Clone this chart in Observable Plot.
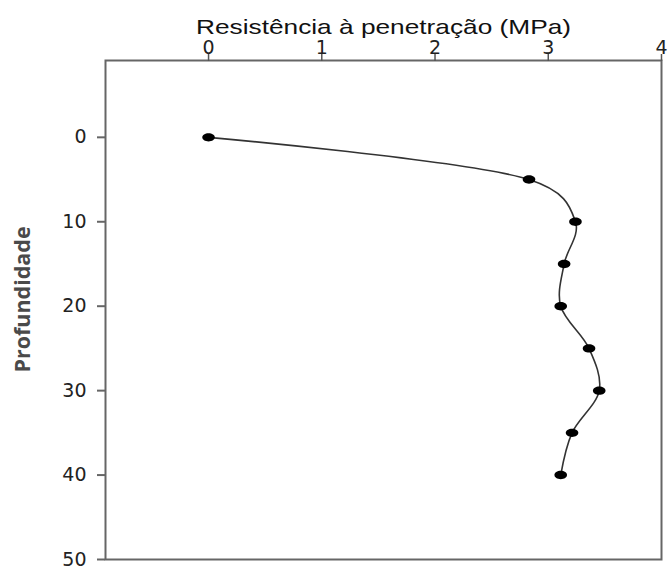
<!DOCTYPE html>
<html>
<head>
<meta charset="utf-8">
<script src="https://cdn.jsdelivr.net/npm/d3@7"></script>
<script src="https://cdn.jsdelivr.net/npm/@observablehq/plot@0.6"></script>
<style>
  html, body { margin: 0; padding: 0; background: #fff; }
  svg { display: block; }
</style>
</head>
<body>
<div id="chart"></div>
<script>
const depth = [0, 5, 10, 15, 20, 25, 30, 35, 40];
const resistance = [0, 2.83, 3.24, 3.14, 3.11, 3.36, 3.45, 3.21, 3.11];
const xTicks = [0, 1, 2, 3, 4];
const yTicks = [0, 10, 20, 30, 40, 50];
const xTitle = "Resistência à penetração (MPa)";
const yTitle = "Profundidade";

const data = depth.map((d, i) => ({depth: d, mpa: resistance[i]}));

const ellipseSymbol = {
  draw(ctx, size) {
    const ry = Math.sqrt(size / Math.PI);
    const rx = ry * 1.5;
    const k = 0.5523;
    ctx.moveTo(rx, 0);
    ctx.bezierCurveTo(rx, k * ry, k * rx, ry, 0, ry);
    ctx.bezierCurveTo(-k * rx, ry, -rx, k * ry, -rx, 0);
    ctx.bezierCurveTo(-rx, -k * ry, -k * rx, -ry, 0, -ry);
    ctx.bezierCurveTo(k * rx, -ry, rx, -k * ry, rx, 0);
    ctx.closePath();
  }
};

const tickFont = "'DejaVu Sans', sans-serif";

const chart = Plot.plot({
  width: 669,
  height: 571,
  marginLeft: 105,
  marginRight: 8,
  marginTop: 60,
  marginBottom: 12,
  style: {fontFamily: "'Liberation Sans', Arial, sans-serif", background: "#fff"},
  x: {domain: [-0.91, 4], label: null},
  y: {domain: [-9.1, 50], reverse: true, label: null},
  marks: [
    Plot.frame({stroke: "#666", strokeWidth: 2}),
    Plot.axisX({anchor: "top", ticks: xTicks, tickFormat: d => String(d), tickSize: 7, tickPadding: 0, fontSize: 19, fontFamily: tickFont, color: "#222", stroke: "#555", strokeWidth: 1.5, label: null}),
    Plot.axisY({anchor: "left", ticks: yTicks, tickFormat: d => String(d), tickSize: 8, tickPadding: 11, fontSize: 19, fontFamily: tickFont, color: "#222", stroke: "#666", strokeWidth: 2, label: null}),
    Plot.text([xTitle], {frameAnchor: "top", textAnchor: "middle", lineAnchor: "middle", dy: -33.7, fontSize: 21, fill: "#111", text: d => d}),
    Plot.text([yTitle], {frameAnchor: "left", textAnchor: "middle", lineAnchor: "middle", dx: -82.7, dy: -10.5, rotate: -90, fontSize: 21.5, fontWeight: "bold", fill: "#4a4a4a", fontFamily: "'Open Sans', sans-serif", text: d => d}),
    Plot.line(data, {x: "mpa", y: "depth", curve: "catmull-rom", tension: 0.25, stroke: "#333", strokeWidth: 1.6}),
    Plot.dot(data, {x: "mpa", y: "depth", r: 4.2, symbol: ellipseSymbol, fill: "#000", stroke: "none"})
  ]
});

// stretch the title horizontally to match the reference's wide lettering
d3.select(chart).selectAll("text").filter(function() { return this.textContent === xTitle; })
  .attr("textLength", 375).attr("lengthAdjust", "spacingAndGlyphs");

document.getElementById("chart").appendChild(chart);
</script>
</body>
</html>
